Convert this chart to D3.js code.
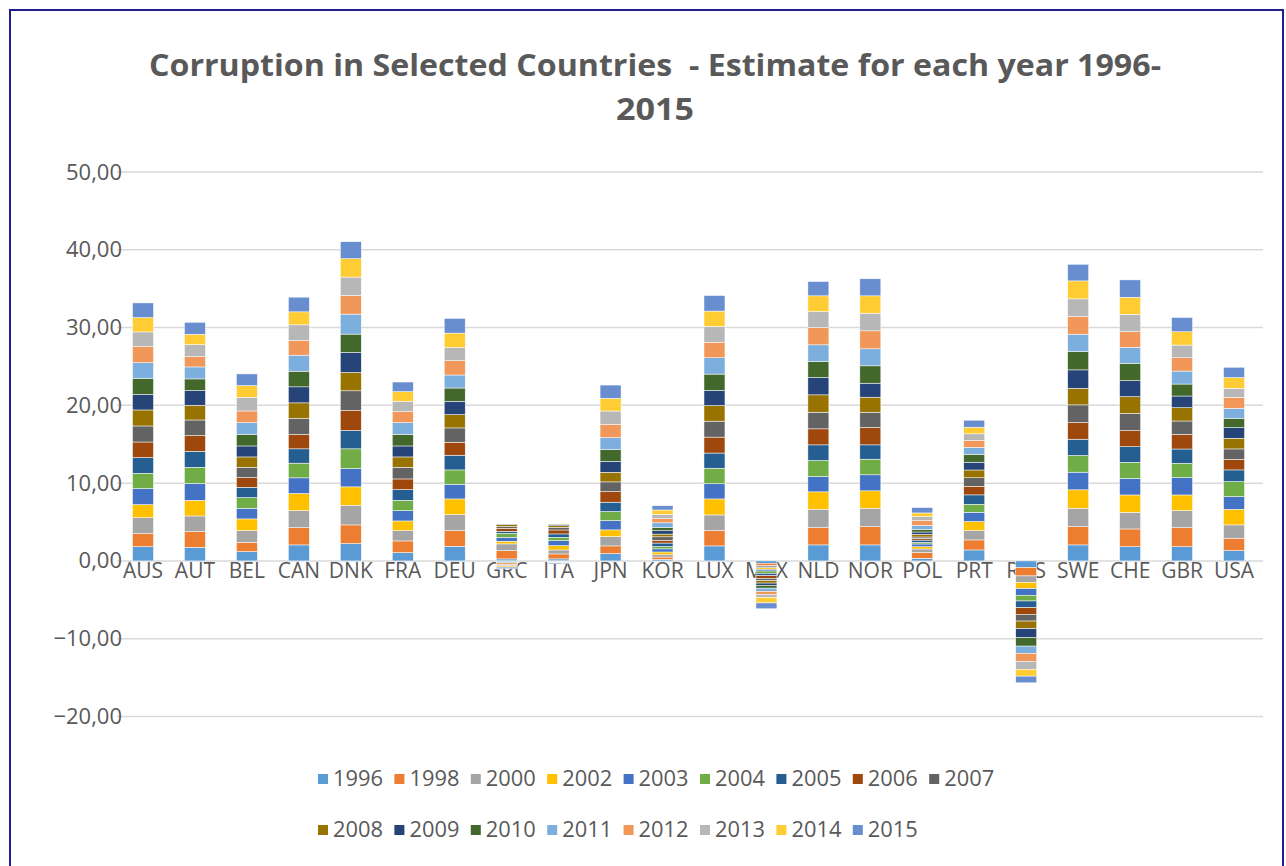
<!DOCTYPE html>
<html><head><meta charset="utf-8">
<script src="https://cdn.jsdelivr.net/npm/d3@7/dist/d3.min.js"></script>
<style>html,body{margin:0;padding:0;background:#fff;}svg{display:block;} text{white-space:pre;}</style>
</head><body><svg id="chart" width="1286" height="866"></svg>
<script>
const countries = ["AUS","AUT","BEL","CAN","DNK","FRA","DEU","GRC","ITA","JPN","KOR","LUX","MEX","NLD","NOR","POL","PRT","RUS","SWE","CHE","GBR","USA"];
const years = ["1996","1998","2000","2002","2003","2004","2005","2006","2007","2008","2009","2010","2011","2012","2013","2014","2015"];
const yTicks = [-20,-10,0,10,20,30,40,50];
const colors = ["#5B9BD5","#ED7D31","#A5A5A5","#FFC000","#4472C4","#70AD47","#255E91","#9E480E","#636363","#997300","#264478","#43682B","#7CAFDD","#F1975A","#B7B7B7","#FFCD33","#698ED0"];

// estimate per year (in legend order) for each country
const AUS = [1.84,1.67,2.06,1.67,2.06,1.97,2.01,2.01,2.06,2.06,2.01,2.06,2.01,2.06,1.89,1.84,1.89];
const AUT = [1.76,2.01,2.01,2.01,2.19,2.06,2.06,2.01,2.01,1.89,1.89,1.50,1.54,1.33,1.54,1.33,1.54];
const BEL = [1.20,1.20,1.50,1.50,1.37,1.37,1.33,1.24,1.33,1.33,1.41,1.50,1.50,1.50,1.76,1.50,1.50];
const CAN = [2.06,2.23,2.19,2.19,2.01,1.89,1.84,1.84,2.06,2.01,2.06,2.01,2.06,1.89,2.01,1.67,1.89];
const DNK = [2.23,2.40,2.53,2.36,2.36,2.53,2.36,2.57,2.53,2.36,2.57,2.36,2.57,2.40,2.36,2.36,2.19];
const FRA = [1.07,1.50,1.33,1.24,1.33,1.33,1.37,1.37,1.50,1.33,1.41,1.50,1.50,1.41,1.33,1.24,1.24];
const DEU = [1.89,2.01,2.06,2.01,1.89,1.84,1.89,1.67,1.84,1.71,1.71,1.71,1.67,1.84,1.71,1.84,1.89];
const GRC = [0.26,1.07,0.86,0.34,0.51,0.51,0.26,0.39,0.21,0.26,0.05,-0.05,-0.20,-0.25,-0.15,-0.15,-0.20];
const ITA = [0.26,0.64,0.51,0.56,0.64,0.43,0.43,0.51,0.34,0.21,0.13,0.05,-0.05,-0.05,-0.10,-0.05,-0.10];
const JPN = [0.94,0.99,1.20,0.86,1.20,1.16,1.20,1.37,1.24,1.24,1.41,1.50,1.54,1.71,1.71,1.63,1.71];
const KOR = [0.20,0.30,0.30,0.35,0.40,0.30,0.45,0.35,0.45,0.35,0.45,0.40,0.60,0.55,0.55,0.55,0.55];
const LUX = [1.93,1.97,2.01,2.06,1.95,2.00,1.95,2.05,2.05,2.00,1.95,2.10,2.10,2.00,2.05,1.95,2.00];
const MEX = [-0.30,-0.30,-0.30,-0.20,-0.20,-0.30,-0.30,-0.35,-0.30,-0.30,-0.30,-0.35,-0.40,-0.40,-0.40,-0.70,-0.75];
const NLD = [2.06,2.23,2.36,2.23,1.97,2.06,2.01,2.06,2.14,2.23,2.23,2.06,2.14,2.23,2.06,2.01,1.84];
const NOR = [2.06,2.36,2.36,2.23,2.06,2.01,1.84,2.23,1.97,1.93,1.80,2.23,2.19,2.31,2.27,2.23,2.19];
const POL = [0.34,0.73,0.47,0.30,0.34,0.20,0.30,0.20,0.20,0.34,0.30,0.34,0.50,0.64,0.50,0.47,0.69];
const PRT = [1.41,1.29,1.20,1.16,1.20,1.03,1.20,1.10,1.10,1.00,1.00,1.00,0.90,0.90,0.85,0.85,0.90];
const RUS = [-0.86,-1.07,-0.86,-0.77,-0.86,-0.73,-0.86,-0.86,-0.86,-0.99,-1.16,-1.07,-0.94,-1.03,-1.03,-0.86,-0.86];
const SWE = [2.06,2.36,2.36,2.36,2.27,2.14,2.10,2.14,2.27,2.14,2.36,2.36,2.23,2.27,2.27,2.31,2.14];
const CHE = [1.84,2.27,2.14,2.23,2.14,2.06,2.01,2.06,2.23,2.14,2.06,2.23,2.06,2.01,2.23,2.19,2.23];
const GBR = [1.84,2.44,2.19,2.01,2.23,1.84,1.84,1.89,1.71,1.71,1.50,1.54,1.67,1.71,1.63,1.71,1.84];
const USA = [1.33,1.59,1.71,2.01,1.63,1.93,1.50,1.37,1.33,1.37,1.37,1.20,1.29,1.41,1.16,1.37,1.33];

const byCountry = {AUS,AUT,BEL,CAN,DNK,FRA,DEU,GRC,ITA,JPN,KOR,LUX,MEX,NLD,NOR,POL,PRT,RUS,SWE,CHE,GBR,USA};
const table = countries.map(c => {
  const row = {country: c};
  years.forEach((y, i) => row[y] = byCountry[c][i]);
  return row;
});

const svg = d3.select("#chart");
const font = "'Open Sans', 'Liberation Sans', sans-serif";
const textColor = "#595959";

// frame
svg.append("rect").attr("x", 10).attr("y", 10).attr("width", 1273).attr("height", 880)
  .attr("fill", "none").attr("stroke", "#1E1E8C").attr("stroke-width", 2);

// title
svg.append("text").attr("x", 655).attr("y", 76).attr("text-anchor", "middle")
  .attr("font-family", font).attr("font-weight", "bold").attr("font-size", 30)
  .attr("fill", textColor).attr("textLength", 1012).attr("lengthAdjust", "spacingAndGlyphs")
  .text("Corruption in Selected Countries  - Estimate for each year 1996-");
svg.append("text").attr("x", 655).attr("y", 120).attr("text-anchor", "middle")
  .attr("font-family", font).attr("font-weight", "bold").attr("font-size", 30)
  .attr("fill", textColor).attr("textLength", 78).attr("lengthAdjust", "spacingAndGlyphs")
  .text("2015");

const x = d3.scaleBand().domain(countries).range([117, 1260]).paddingInner(0.6).paddingOuter(0.3);
const y = d3.scaleLinear().domain([-20, 50]).range([716.5, 172]);

// gridlines
svg.append("g").selectAll("line").data(yTicks).join("line")
  .attr("x1", 117).attr("x2", 1263)
  .attr("y1", d => y(d)).attr("y2", d => y(d))
  .attr("stroke", "#D9D9D9").attr("stroke-width", 1.5);

// y axis labels
const fmt = d => d3.format(".2f")(d).replace(".", ",");
const yAxis = d3.axisLeft(y).tickValues(yTicks).tickFormat(fmt).tickSize(0).tickPadding(0);
const gy = svg.append("g").attr("transform", "translate(122,0)").call(yAxis);
gy.select(".domain").remove();
gy.selectAll("text").attr("font-family", font).attr("font-size", 22).attr("fill", textColor);

// x axis labels
const xAxis = d3.axisBottom(x).tickSize(0).tickPadding(0);
const gx = svg.append("g").attr("transform", `translate(0,${y(0) + 2})`).call(xAxis);
gx.select(".domain").remove();
gx.selectAll("text").attr("font-family", font).attr("font-size", 21).attr("fill", textColor).attr("dy", "0.71em");

// stacked bars
const stack = d3.stack().keys(years).offset(d3.stackOffsetDiverging);
const series = stack(table);
const bw = 21;
svg.append("g").selectAll("g").data(series).join("g")
  .attr("fill", (d, i) => colors[i])
  .selectAll("rect").data(d => d).join("rect")
  .attr("x", d => x(d.data.country) + x.bandwidth() / 2 - bw / 2)
  .attr("width", bw)
  .attr("y", d => y(Math.max(d[0], d[1])))
  .attr("height", d => Math.abs(y(d[0]) - y(d[1])))
  .attr("stroke", "#ffffff").attr("stroke-width", 0.5);

// legend
const itemW = 76.4;
const legend = svg.append("g");
years.forEach((yr, i) => {
  const row = i < 9 ? 0 : 1;
  const col = i < 9 ? i : i - 9;
  const gx0 = 318 + col * itemW;
  const gy0 = row === 0 ? 779 : 830;
  const g = legend.append("g").attr("transform", `translate(${gx0},${gy0})`);
  g.append("rect").attr("x", 0).attr("y", -5).attr("width", 10).attr("height", 10).attr("fill", colors[i]);
  g.append("text").attr("x", 15).attr("y", 0).attr("dy", "0.35em")
    .attr("font-family", font).attr("font-size", 21).attr("fill", textColor)
    .attr("textLength", 50).attr("lengthAdjust", "spacingAndGlyphs").text(yr);
});
</script></body></html>
